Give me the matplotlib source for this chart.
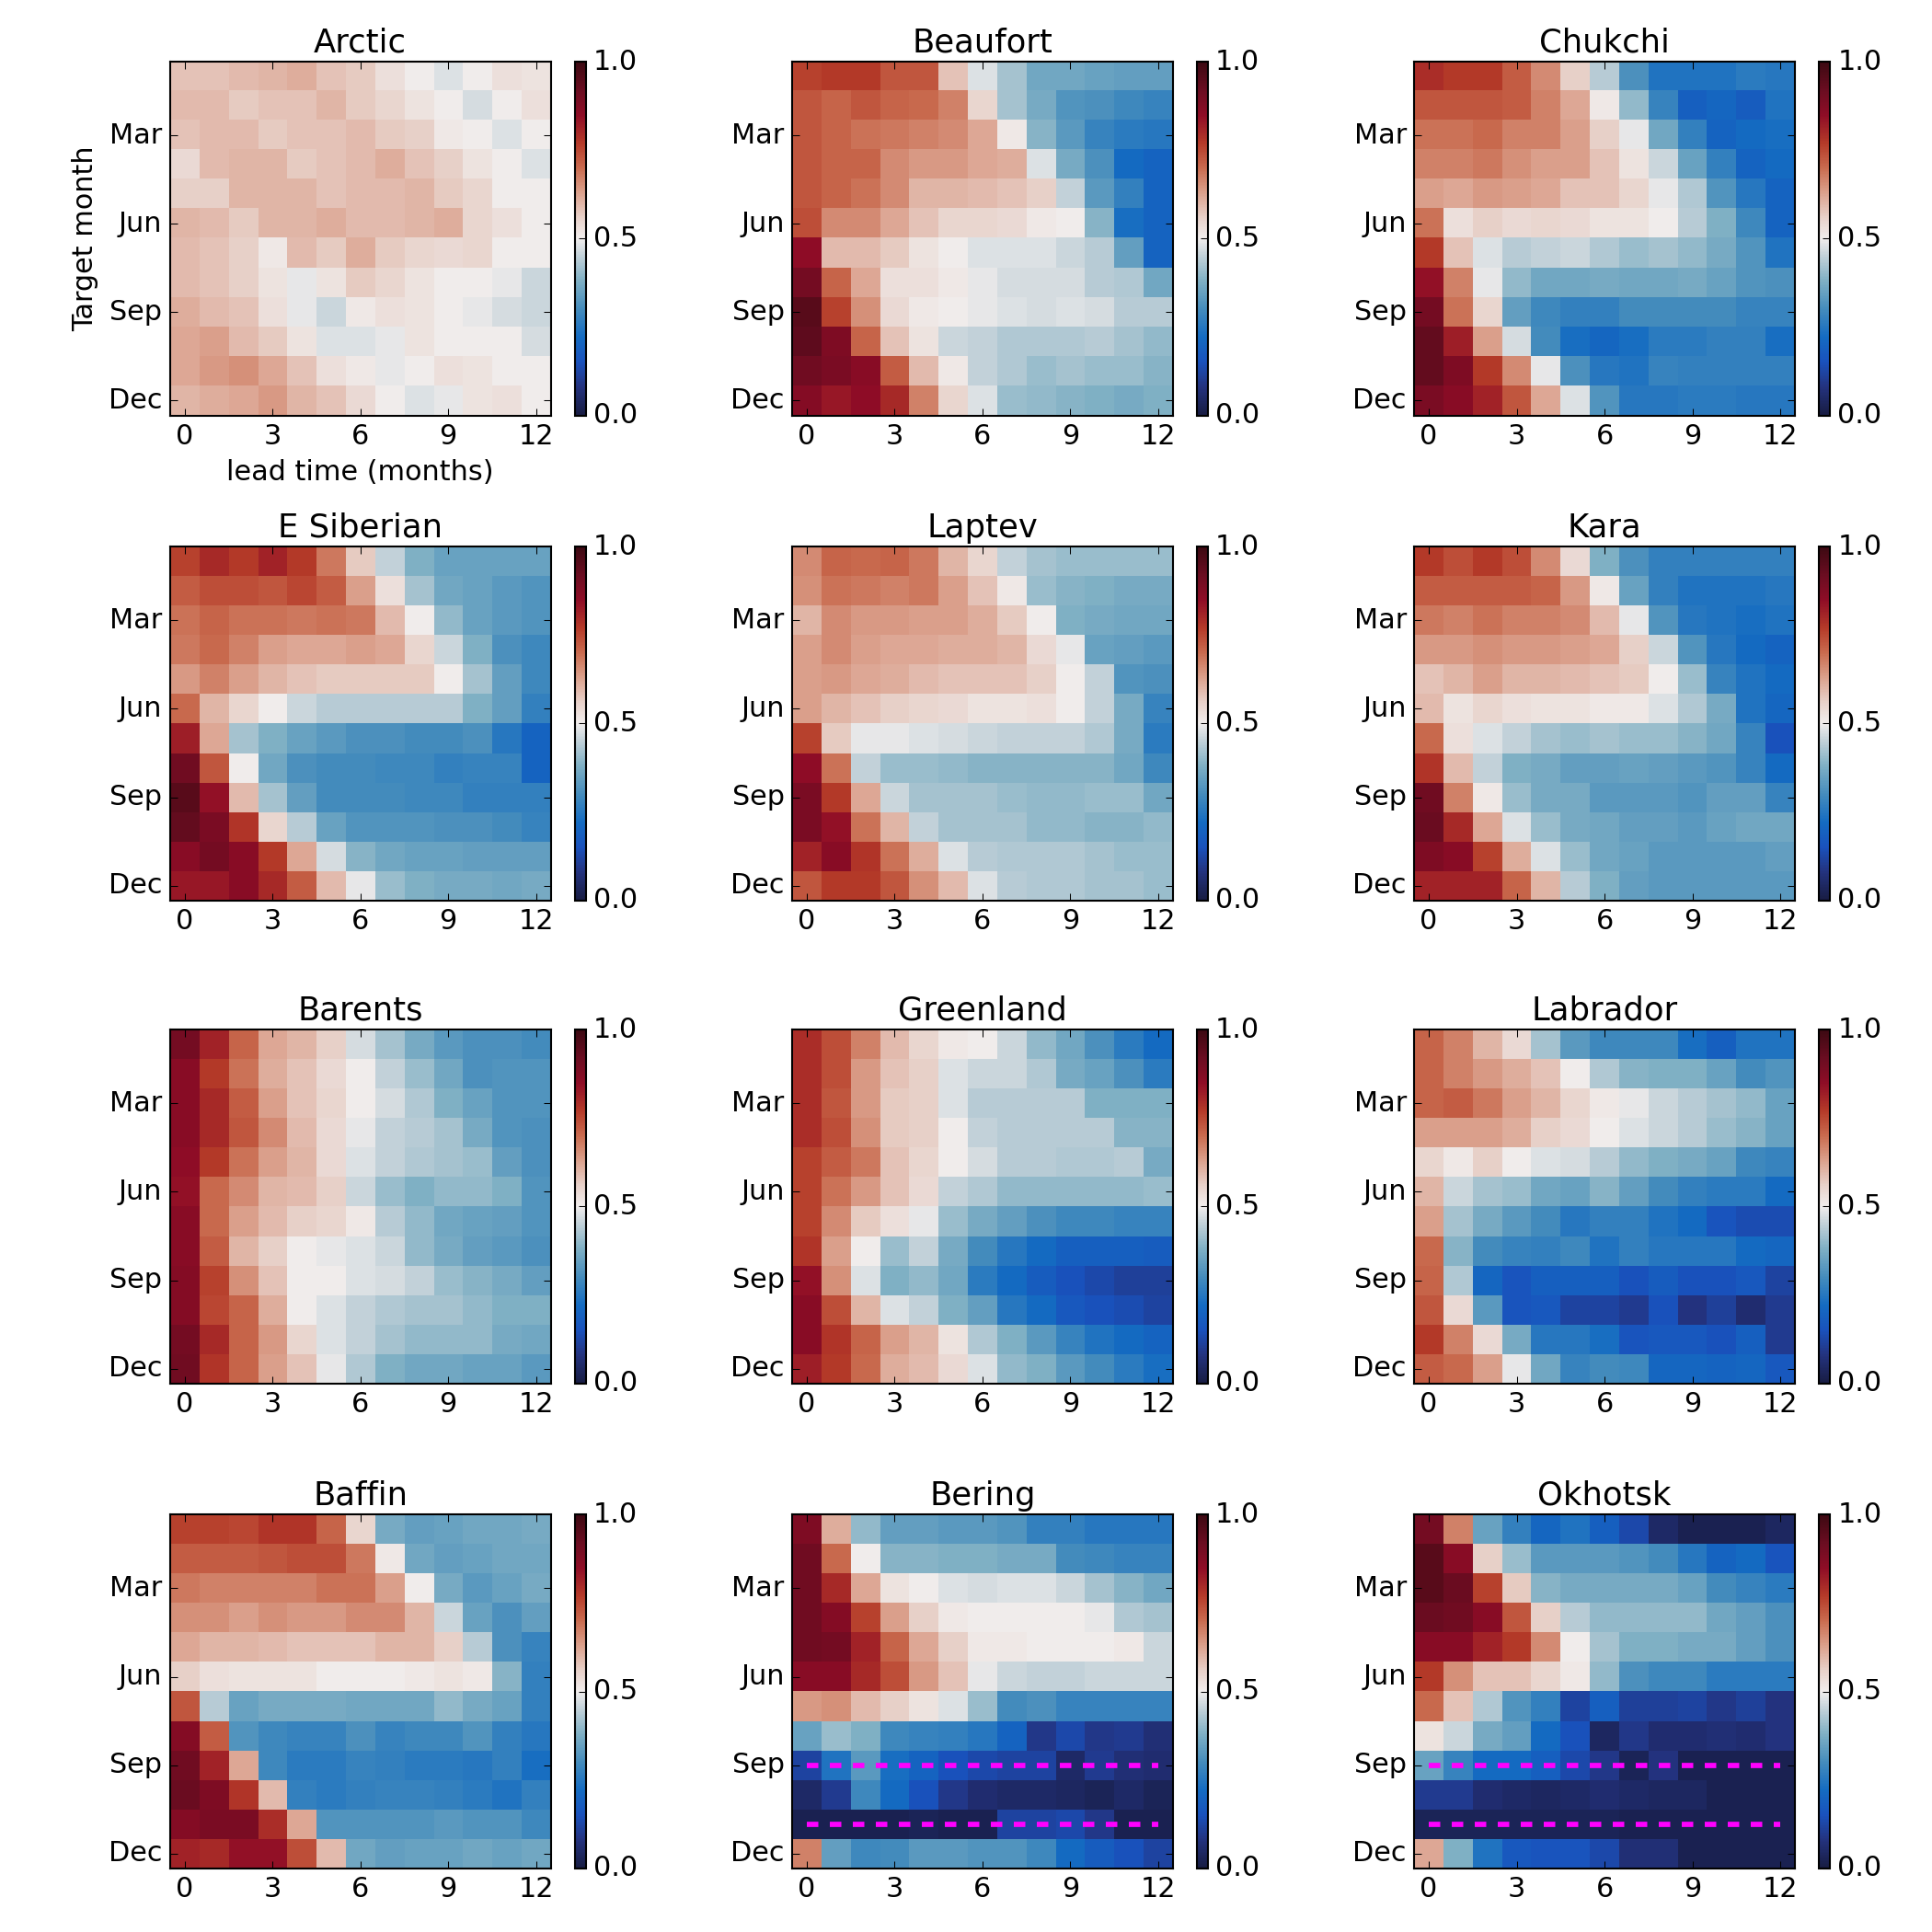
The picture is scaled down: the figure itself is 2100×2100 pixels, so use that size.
import matplotlib
matplotlib.use('Agg')
import matplotlib.pyplot as plt
import numpy as np
from matplotlib.colors import LinearSegmentedColormap

plt.style.use('classic')
plt.rcParams['font.family'] = ['DejaVu Sans']
plt.rcParams['savefig.facecolor'] = 'white'
plt.rcParams['figure.facecolor'] = 'white'
plt.rcParams['xtick.labelsize'] = 14.5
plt.rcParams['ytick.labelsize'] = 14.5
plt.rcParams['axes.labelsize'] = 14.5
plt.rcParams['axes.titlesize'] = 17

regions = ['Arctic', 'Beaufort', 'Chukchi', 'E Siberian', 'Laptev', 'Kara',
           'Barents', 'Greenland', 'Labrador', 'Baffin', 'Bering', 'Okhotsk']
month_ticks = [2, 5, 8, 11]
month_labels = ['Mar', 'Jun', 'Sep', 'Dec']
lead_ticks = [0, 3, 6, 9, 12]
marked_months = [8, 10]   # rows marked with dashed lines (Bering, Okhotsk)

arctic = [
    [0.58,0.58,0.59,0.60,0.61,0.58,0.57,0.53,0.50,0.48,0.50,0.53,0.52],
    [0.59,0.59,0.57,0.58,0.58,0.60,0.57,0.55,0.52,0.50,0.47,0.50,0.53],
    [0.58,0.59,0.59,0.57,0.58,0.58,0.59,0.57,0.56,0.51,0.50,0.48,0.50],
    [0.54,0.59,0.60,0.60,0.57,0.58,0.59,0.61,0.58,0.56,0.52,0.50,0.48],
    [0.56,0.56,0.60,0.60,0.60,0.58,0.59,0.59,0.60,0.57,0.55,0.50,0.50],
    [0.60,0.59,0.57,0.60,0.60,0.61,0.59,0.59,0.60,0.61,0.55,0.53,0.50],
    [0.59,0.58,0.56,0.51,0.59,0.57,0.61,0.57,0.55,0.54,0.55,0.50,0.50],
    [0.59,0.58,0.56,0.52,0.49,0.52,0.57,0.55,0.52,0.50,0.50,0.49,0.46],
    [0.61,0.59,0.58,0.53,0.49,0.46,0.51,0.53,0.52,0.50,0.49,0.47,0.46],
    [0.62,0.63,0.59,0.57,0.52,0.48,0.48,0.49,0.52,0.50,0.50,0.50,0.47],
    [0.62,0.64,0.65,0.62,0.58,0.53,0.51,0.49,0.50,0.53,0.52,0.50,0.50],
    [0.60,0.61,0.62,0.64,0.60,0.58,0.54,0.50,0.48,0.49,0.52,0.53,0.50],
]
beaufort = [
    [0.76,0.77,0.77,0.73,0.73,0.58,0.48,0.42,0.36,0.36,0.35,0.34,0.34],
    [0.73,0.71,0.73,0.71,0.70,0.67,0.55,0.42,0.37,0.32,0.31,0.29,0.28],
    [0.73,0.71,0.69,0.68,0.67,0.66,0.62,0.51,0.39,0.33,0.28,0.26,0.25],
    [0.73,0.71,0.71,0.66,0.64,0.64,0.62,0.61,0.48,0.37,0.31,0.22,0.20],
    [0.73,0.71,0.69,0.66,0.60,0.60,0.59,0.58,0.56,0.45,0.33,0.27,0.20],
    [0.74,0.66,0.66,0.62,0.58,0.55,0.55,0.54,0.51,0.50,0.39,0.23,0.20],
    [0.85,0.59,0.59,0.57,0.52,0.50,0.48,0.48,0.48,0.46,0.44,0.34,0.20],
    [0.90,0.71,0.62,0.53,0.53,0.51,0.49,0.47,0.47,0.47,0.44,0.43,0.36],
    [0.95,0.76,0.65,0.54,0.51,0.50,0.49,0.48,0.47,0.48,0.47,0.44,0.44],
    [0.94,0.88,0.71,0.58,0.52,0.46,0.45,0.43,0.43,0.43,0.44,0.42,0.40],
    [0.91,0.89,0.86,0.72,0.59,0.51,0.45,0.43,0.41,0.42,0.41,0.41,0.39],
    [0.87,0.83,0.85,0.80,0.67,0.55,0.48,0.41,0.40,0.39,0.38,0.37,0.38],
]
chukchi = [
    [0.79,0.77,0.77,0.72,0.66,0.56,0.44,0.31,0.24,0.24,0.24,0.26,0.25],
    [0.73,0.73,0.73,0.72,0.67,0.62,0.51,0.40,0.28,0.19,0.21,0.18,0.24],
    [0.69,0.69,0.70,0.67,0.67,0.63,0.56,0.49,0.36,0.27,0.20,0.22,0.23],
    [0.67,0.67,0.68,0.65,0.63,0.63,0.58,0.52,0.46,0.35,0.27,0.20,0.22],
    [0.63,0.62,0.64,0.63,0.62,0.58,0.58,0.55,0.49,0.43,0.32,0.25,0.20],
    [0.69,0.53,0.56,0.54,0.55,0.54,0.52,0.52,0.50,0.44,0.38,0.29,0.20],
    [0.77,0.58,0.48,0.44,0.45,0.46,0.43,0.41,0.42,0.40,0.37,0.32,0.24],
    [0.84,0.67,0.49,0.40,0.36,0.36,0.37,0.36,0.36,0.37,0.35,0.32,0.31],
    [0.90,0.69,0.55,0.34,0.29,0.27,0.27,0.30,0.30,0.30,0.30,0.28,0.28],
    [0.93,0.82,0.63,0.47,0.30,0.23,0.21,0.23,0.26,0.26,0.27,0.27,0.23],
    [0.93,0.88,0.77,0.66,0.49,0.31,0.25,0.24,0.28,0.27,0.27,0.27,0.27],
    [0.89,0.86,0.81,0.73,0.62,0.48,0.32,0.25,0.25,0.26,0.26,0.25,0.25],
]
e_siberian = [
    [0.76,0.80,0.77,0.81,0.77,0.68,0.57,0.45,0.38,0.35,0.35,0.35,0.35],
    [0.72,0.74,0.74,0.73,0.75,0.72,0.63,0.53,0.42,0.36,0.35,0.33,0.32],
    [0.69,0.71,0.69,0.69,0.68,0.69,0.68,0.59,0.50,0.40,0.35,0.33,0.32],
    [0.68,0.70,0.67,0.63,0.62,0.62,0.63,0.62,0.55,0.46,0.38,0.31,0.29],
    [0.64,0.67,0.63,0.60,0.58,0.57,0.57,0.57,0.57,0.50,0.42,0.34,0.29],
    [0.70,0.60,0.55,0.50,0.46,0.44,0.44,0.44,0.44,0.44,0.38,0.34,0.27],
    [0.82,0.62,0.42,0.38,0.35,0.33,0.31,0.31,0.30,0.30,0.31,0.25,0.20],
    [0.91,0.73,0.50,0.36,0.31,0.30,0.30,0.29,0.29,0.27,0.28,0.28,0.20],
    [0.95,0.84,0.59,0.42,0.34,0.30,0.30,0.30,0.29,0.29,0.27,0.27,0.27],
    [0.93,0.89,0.78,0.55,0.44,0.35,0.32,0.32,0.32,0.31,0.31,0.30,0.28],
    [0.86,0.90,0.86,0.77,0.62,0.47,0.39,0.36,0.35,0.35,0.34,0.34,0.34],
    [0.83,0.83,0.86,0.80,0.72,0.59,0.49,0.41,0.38,0.37,0.37,0.36,0.37],
]
laptev = [
    [0.66,0.71,0.70,0.71,0.68,0.60,0.55,0.45,0.42,0.41,0.41,0.41,0.41],
    [0.65,0.69,0.68,0.67,0.68,0.63,0.58,0.51,0.41,0.39,0.38,0.37,0.37],
    [0.60,0.66,0.64,0.64,0.63,0.63,0.61,0.57,0.50,0.38,0.37,0.36,0.36],
    [0.63,0.66,0.63,0.62,0.62,0.61,0.61,0.60,0.54,0.49,0.35,0.34,0.33],
    [0.63,0.64,0.62,0.61,0.59,0.58,0.58,0.58,0.56,0.50,0.45,0.32,0.31],
    [0.63,0.60,0.58,0.56,0.55,0.54,0.52,0.52,0.53,0.50,0.45,0.37,0.28],
    [0.76,0.57,0.49,0.49,0.48,0.47,0.46,0.45,0.45,0.45,0.43,0.37,0.26],
    [0.85,0.69,0.45,0.41,0.41,0.40,0.39,0.39,0.39,0.39,0.39,0.36,0.29],
    [0.89,0.77,0.62,0.46,0.42,0.42,0.42,0.41,0.40,0.40,0.41,0.41,0.36],
    [0.89,0.84,0.69,0.60,0.45,0.42,0.42,0.42,0.40,0.40,0.39,0.39,0.40],
    [0.81,0.86,0.78,0.69,0.61,0.48,0.44,0.43,0.43,0.43,0.42,0.41,0.41],
    [0.73,0.77,0.77,0.73,0.65,0.59,0.48,0.44,0.43,0.43,0.42,0.42,0.41],
]
kara = [
    [0.77,0.74,0.77,0.74,0.66,0.54,0.38,0.31,0.27,0.27,0.27,0.27,0.27],
    [0.72,0.72,0.72,0.72,0.71,0.64,0.51,0.35,0.27,0.24,0.24,0.24,0.25],
    [0.68,0.67,0.69,0.67,0.67,0.66,0.59,0.49,0.32,0.25,0.24,0.23,0.24],
    [0.64,0.64,0.65,0.64,0.64,0.63,0.62,0.56,0.46,0.32,0.25,0.22,0.20],
    [0.58,0.60,0.63,0.60,0.60,0.59,0.58,0.57,0.50,0.41,0.28,0.24,0.22],
    [0.59,0.52,0.55,0.53,0.52,0.52,0.51,0.51,0.48,0.43,0.37,0.24,0.21],
    [0.70,0.53,0.48,0.45,0.42,0.41,0.42,0.41,0.41,0.39,0.36,0.28,0.15],
    [0.78,0.59,0.45,0.38,0.37,0.34,0.34,0.35,0.34,0.33,0.32,0.28,0.22],
    [0.91,0.67,0.51,0.41,0.37,0.37,0.33,0.33,0.33,0.32,0.34,0.34,0.28],
    [0.92,0.80,0.62,0.48,0.41,0.37,0.36,0.34,0.34,0.33,0.35,0.36,0.36],
    [0.88,0.86,0.76,0.61,0.48,0.41,0.36,0.35,0.33,0.33,0.33,0.33,0.34],
    [0.81,0.81,0.81,0.71,0.60,0.44,0.38,0.34,0.33,0.33,0.33,0.33,0.33],
]
barents = [
    [0.90,0.81,0.71,0.62,0.60,0.56,0.47,0.42,0.37,0.33,0.31,0.31,0.30],
    [0.86,0.77,0.69,0.61,0.58,0.54,0.50,0.45,0.41,0.36,0.31,0.32,0.32],
    [0.86,0.80,0.72,0.63,0.58,0.55,0.50,0.47,0.43,0.38,0.35,0.32,0.32],
    [0.86,0.80,0.73,0.66,0.59,0.54,0.49,0.45,0.44,0.42,0.37,0.32,0.31],
    [0.85,0.77,0.69,0.63,0.60,0.54,0.48,0.45,0.43,0.42,0.41,0.34,0.31],
    [0.84,0.70,0.66,0.60,0.59,0.56,0.46,0.41,0.38,0.40,0.40,0.38,0.32],
    [0.86,0.70,0.63,0.59,0.56,0.55,0.51,0.44,0.40,0.36,0.35,0.34,0.32],
    [0.86,0.72,0.60,0.56,0.50,0.49,0.48,0.46,0.40,0.37,0.34,0.33,0.31],
    [0.87,0.76,0.65,0.58,0.50,0.50,0.48,0.47,0.45,0.41,0.39,0.37,0.34],
    [0.87,0.75,0.71,0.61,0.50,0.48,0.45,0.43,0.42,0.42,0.40,0.38,0.38],
    [0.90,0.80,0.71,0.64,0.55,0.48,0.45,0.42,0.40,0.40,0.40,0.37,0.36],
    [0.91,0.78,0.71,0.63,0.58,0.49,0.43,0.38,0.36,0.36,0.35,0.35,0.33],
]
greenland = [
    [0.79,0.74,0.67,0.59,0.55,0.51,0.50,0.46,0.40,0.36,0.31,0.26,0.22],
    [0.79,0.74,0.64,0.58,0.56,0.48,0.46,0.46,0.43,0.37,0.35,0.31,0.26],
    [0.79,0.73,0.64,0.57,0.56,0.48,0.44,0.44,0.44,0.44,0.38,0.38,0.38],
    [0.79,0.74,0.65,0.57,0.56,0.50,0.45,0.44,0.44,0.44,0.44,0.39,0.39],
    [0.76,0.72,0.68,0.58,0.55,0.50,0.47,0.44,0.44,0.43,0.43,0.44,0.37],
    [0.76,0.69,0.64,0.58,0.54,0.45,0.43,0.40,0.40,0.40,0.40,0.40,0.41],
    [0.76,0.66,0.57,0.53,0.49,0.41,0.37,0.34,0.31,0.29,0.29,0.28,0.28],
    [0.78,0.63,0.50,0.41,0.45,0.37,0.30,0.25,0.22,0.19,0.19,0.19,0.18],
    [0.84,0.65,0.48,0.38,0.40,0.36,0.26,0.22,0.18,0.15,0.13,0.11,0.11],
    [0.86,0.74,0.60,0.48,0.45,0.38,0.34,0.25,0.22,0.17,0.15,0.14,0.12],
    [0.86,0.78,0.71,0.63,0.60,0.52,0.43,0.38,0.33,0.28,0.24,0.22,0.20],
    [0.82,0.77,0.70,0.61,0.59,0.54,0.48,0.40,0.38,0.33,0.30,0.26,0.23],
]
labrador = [
    [0.71,0.67,0.60,0.54,0.42,0.33,0.29,0.29,0.29,0.23,0.19,0.24,0.24],
    [0.71,0.67,0.64,0.61,0.58,0.50,0.43,0.39,0.38,0.38,0.35,0.30,0.32],
    [0.71,0.72,0.68,0.63,0.60,0.55,0.51,0.49,0.46,0.44,0.42,0.40,0.35],
    [0.63,0.63,0.63,0.61,0.56,0.54,0.50,0.48,0.46,0.44,0.41,0.39,0.35],
    [0.55,0.51,0.56,0.50,0.48,0.47,0.44,0.40,0.38,0.37,0.35,0.29,0.28],
    [0.60,0.46,0.42,0.41,0.36,0.35,0.39,0.34,0.30,0.27,0.26,0.26,0.22],
    [0.63,0.42,0.37,0.33,0.30,0.25,0.27,0.27,0.24,0.22,0.16,0.14,0.14],
    [0.70,0.39,0.30,0.28,0.27,0.29,0.24,0.27,0.25,0.25,0.25,0.22,0.21],
    [0.71,0.43,0.21,0.16,0.19,0.19,0.19,0.15,0.18,0.15,0.15,0.17,0.12],
    [0.73,0.54,0.33,0.16,0.17,0.12,0.12,0.10,0.15,0.08,0.11,0.06,0.10],
    [0.77,0.67,0.54,0.37,0.25,0.25,0.23,0.16,0.17,0.17,0.15,0.19,0.10],
    [0.72,0.70,0.63,0.49,0.36,0.28,0.30,0.29,0.21,0.21,0.20,0.21,0.17],
]
baffin = [
    [0.76,0.76,0.75,0.78,0.78,0.71,0.55,0.37,0.34,0.35,0.36,0.36,0.37],
    [0.72,0.72,0.72,0.73,0.74,0.74,0.68,0.51,0.36,0.34,0.35,0.36,0.36],
    [0.68,0.67,0.67,0.67,0.67,0.69,0.69,0.63,0.50,0.37,0.33,0.35,0.37],
    [0.65,0.65,0.63,0.65,0.64,0.64,0.66,0.66,0.60,0.46,0.35,0.31,0.34],
    [0.62,0.60,0.60,0.59,0.58,0.58,0.58,0.60,0.60,0.56,0.44,0.31,0.28],
    [0.56,0.53,0.52,0.52,0.52,0.50,0.50,0.50,0.51,0.52,0.51,0.39,0.27],
    [0.73,0.44,0.35,0.37,0.37,0.37,0.36,0.36,0.36,0.40,0.37,0.35,0.27],
    [0.87,0.72,0.32,0.29,0.28,0.28,0.31,0.28,0.29,0.29,0.32,0.27,0.25],
    [0.91,0.81,0.62,0.29,0.26,0.26,0.28,0.27,0.26,0.26,0.25,0.27,0.23],
    [0.92,0.88,0.78,0.59,0.27,0.26,0.27,0.28,0.28,0.27,0.26,0.24,0.27],
    [0.87,0.89,0.89,0.79,0.62,0.32,0.32,0.32,0.32,0.33,0.32,0.32,0.29],
    [0.81,0.80,0.84,0.84,0.74,0.59,0.36,0.34,0.35,0.35,0.36,0.35,0.36],
]
bering = [
    [0.88,0.61,0.40,0.34,0.34,0.33,0.33,0.32,0.27,0.27,0.25,0.25,0.25],
    [0.91,0.70,0.50,0.39,0.39,0.38,0.38,0.37,0.37,0.30,0.29,0.28,0.28],
    [0.91,0.80,0.62,0.52,0.50,0.48,0.47,0.48,0.48,0.46,0.42,0.39,0.36],
    [0.91,0.87,0.76,0.63,0.56,0.51,0.50,0.50,0.50,0.50,0.49,0.43,0.42],
    [0.91,0.90,0.81,0.71,0.62,0.56,0.51,0.51,0.50,0.50,0.50,0.51,0.46],
    [0.86,0.86,0.80,0.74,0.64,0.58,0.49,0.46,0.45,0.45,0.46,0.46,0.46],
    [0.64,0.65,0.59,0.56,0.52,0.48,0.41,0.30,0.31,0.28,0.28,0.28,0.28],
    [0.35,0.41,0.38,0.29,0.28,0.27,0.25,0.20,0.09,0.13,0.09,0.10,0.07],
    [0.12,0.24,0.33,0.23,0.20,0.15,0.13,0.12,0.12,0.05,0.10,0.07,0.06],
    [0.05,0.10,0.29,0.22,0.15,0.09,0.06,0.05,0.05,0.04,0.03,0.05,0.03],
    [0.02,0.02,0.02,0.02,0.03,0.02,0.02,0.12,0.12,0.13,0.09,0.02,0.02],
    [0.67,0.34,0.29,0.30,0.33,0.33,0.32,0.32,0.29,0.22,0.18,0.15,0.12],
]
okhotsk = [
    [0.90,0.67,0.35,0.27,0.21,0.24,0.19,0.13,0.05,0.02,0.02,0.02,0.04],
    [0.95,0.86,0.56,0.41,0.33,0.33,0.33,0.32,0.30,0.25,0.20,0.22,0.16],
    [0.95,0.92,0.76,0.57,0.39,0.37,0.37,0.37,0.37,0.35,0.30,0.28,0.26],
    [0.92,0.91,0.86,0.73,0.56,0.44,0.40,0.40,0.40,0.40,0.36,0.34,0.31],
    [0.86,0.86,0.81,0.77,0.66,0.50,0.42,0.38,0.38,0.37,0.37,0.34,0.31],
    [0.77,0.65,0.58,0.58,0.55,0.51,0.40,0.31,0.29,0.29,0.26,0.26,0.26],
    [0.70,0.58,0.43,0.32,0.27,0.12,0.19,0.11,0.11,0.12,0.09,0.11,0.08],
    [0.52,0.46,0.37,0.34,0.22,0.15,0.04,0.09,0.06,0.06,0.07,0.06,0.08],
    [0.35,0.28,0.22,0.22,0.19,0.13,0.09,0.03,0.08,0.02,0.02,0.02,0.02],
    [0.10,0.10,0.06,0.05,0.04,0.05,0.06,0.05,0.04,0.04,0.02,0.02,0.02],
    [0.03,0.03,0.03,0.03,0.03,0.03,0.03,0.02,0.02,0.02,0.02,0.02,0.02],
    [0.62,0.38,0.24,0.17,0.16,0.16,0.13,0.07,0.07,0.02,0.02,0.02,0.02],
]

skill = [arctic, beaufort, chukchi, e_siberian, laptev, kara,
         barents, greenland, labrador, baffin, bering, okhotsk]
dashed = ['Bering', 'Okhotsk']

# approximation of cmocean 'balance'
balance = LinearSegmentedColormap.from_list('balance', [
    (0.00, (0.094, 0.111, 0.261)),
    (0.08, (0.14, 0.20, 0.50)),
    (0.15, (0.10, 0.32, 0.74)),
    (0.22, (0.08, 0.42, 0.76)),
    (0.30, (0.27, 0.55, 0.74)),
    (0.38, (0.50, 0.69, 0.77)),
    (0.45, (0.76, 0.82, 0.85)),
    (0.50, (0.945, 0.931, 0.928)),
    (0.56, (0.91, 0.82, 0.79)),
    (0.63, (0.86, 0.63, 0.55)),
    (0.70, (0.79, 0.42, 0.31)),
    (0.77, (0.71, 0.23, 0.16)),
    (0.85, (0.56, 0.05, 0.15)),
    (0.92, (0.42, 0.05, 0.13)),
    (1.00, (0.239, 0.036, 0.071)),
])

fig = plt.figure(figsize=(14, 14))
lefts = [0.088, 0.41, 0.732]
bottoms = [0.785, 0.534, 0.284, 0.033]
w, h = 0.197, 0.183

for i, name in enumerate(regions):
    r, c = divmod(i, 3)
    ax = fig.add_axes([lefts[c], bottoms[r], w, h])
    im = ax.imshow(np.array(skill[i]), cmap=balance, vmin=0, vmax=1,
                   interpolation='nearest', aspect='auto',
                   extent=[-0.5, 12.5, 11.5, -0.5])
    if name in dashed:
        for m in marked_months:
            ax.plot([0, 12], [m, m], '--', color='magenta', lw=2.75)
    ax.set_xlim(-0.5, 12.5)
    ax.set_ylim(11.5, -0.5)
    ax.set_xticks(lead_ticks)
    ax.set_yticks(month_ticks)
    ax.set_yticklabels(month_labels)
    ax.set_title(name)
    if i == 0:
        ax.set_ylabel('Target month')
        ax.set_xlabel('lead time (months)')
    cax = fig.add_axes([lefts[c] + w + 0.0124, bottoms[r], 0.0057, h])
    cb = fig.colorbar(im, cax=cax, ticks=[0, 0.5, 1.0])
    cb.ax.set_yticklabels(['0.0', '0.5', '1.0'])

fig.savefig('out.png', dpi=150)
